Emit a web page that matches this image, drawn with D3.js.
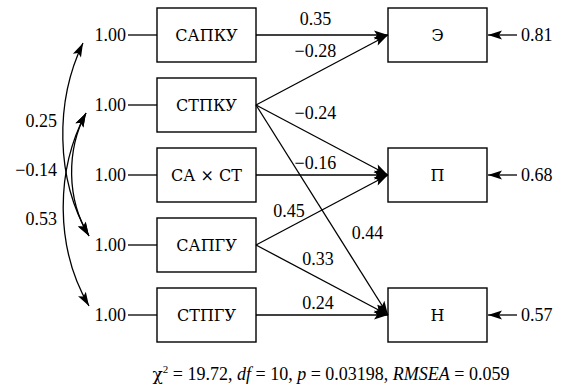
<!DOCTYPE html>
<html>
<head>
<meta charset="utf-8">
<script src="https://cdn.jsdelivr.net/npm/d3@7"></script>
</head>
<body style="margin:0">
<script>
// observed variables (left), outcomes (right)
const leftVars = ["САПКУ", "СТПКУ", "СА × СТ", "САПГУ", "СТПГУ"];
const leftVariances = [1.00, 1.00, 1.00, 1.00, 1.00];
const rightVars = ["Э", "П", "Н"];
const residuals = [0.81, 0.68, 0.57];

// paths
const pathFrom = ["САПКУ", "СТПКУ", "СТПКУ", "СТПКУ", "СА × СТ", "САПГУ", "САПГУ", "СТПГУ"];
const pathTo   = ["Э", "Э", "П", "Н", "П", "П", "Н", "Н"];
const pathCoef = [0.35, -0.28, -0.24, 0.44, -0.16, 0.45, 0.33, 0.24];

// covariances
const covFrom = ["САПКУ", "СТПКУ", "СТПКУ"];
const covTo   = ["САПГУ", "САПГУ", "СТПГУ"];
const covValues = [0.25, -0.14, 0.53];

const fitText = [["χ", "greek"], ["2", "sup"], [" = 19.72, ", "down"], ["df", "i"], [" = 10, ", ""], ["p", "i"], [" = 0.03198, ", ""], ["RMSEA", "i"], [" = 0.059", ""]];

// layout for labels
const pathLabelPos = [
  { t: 0.45, dx: 0, dy: -16 },
  { t: 0.45, dx: 0, dy: -23 },
  { t: 0.45, dx: 0, dy: -24 },
  { t: 0.61, dx: 31, dy: 0 },
  { t: 0.45, dx: 0, dy: -12 },
  { t: 0.25, dx: 0, dy: -17 },
  { t: 0.47, dx: 0, dy: -19 },
  { t: 0.47, dx: 0, dy: -12 }
];
const covLabelY = [121, 170, 219];

const W = 563, H = 390;
const boxW = 99, boxH = 54;
const leftX = 157, rightX = 388;
const numFont = "Liberation Serif", cyrFont = "DejaVu Serif";

const svg = d3.select("body").append("svg")
    .attr("width", W).attr("height", H);

// apply font to a text selection
function font(sel, fam, size) {
  return sel.attr("font-family", fam).attr("font-size", size)
    .style("font-family", fam).style("font-size", size + "px");
}

const y = d3.scalePoint().domain(leftVars).range([35, 315]);
const yR = d3.scalePoint().domain(rightVars).range([35, 315]);
const fmt = d3.format(".2f");

svg.append("defs").append("marker")
    .attr("id", "head")
    .attr("markerUnits", "userSpaceOnUse")
    .attr("viewBox", "-15 -6 16 12")
    .attr("refX", 0).attr("refY", 0)
    .attr("markerWidth", 16).attr("markerHeight", 12)
    .attr("orient", "auto-start-reverse")
    .append("path")
    .attr("d", "M0,0 L-14,-4.5 L-11,0 L-14,4.5 Z")
    .attr("fill", "#000");

// left boxes
const lg = svg.append("g");
lg.selectAll("rect").data(leftVars).join("rect")
    .attr("x", leftX).attr("y", d => y(d) - boxH / 2)
    .attr("width", boxW).attr("height", boxH)
    .attr("fill", "none").attr("stroke", "#000").attr("stroke-width", 1.4);
lg.selectAll("text.name").data(leftVars).join("text")
    .attr("class", "name")
    .attr("x", leftX + boxW / 2).attr("y", d => y(d)).attr("dy", "0.36em")
    .attr("text-anchor", "middle").text(d => d)
    .call(font, cyrFont, 16);

// variances
lg.selectAll("line.var").data(leftVars).join("line")
    .attr("class", "var")
    .attr("x1", 128).attr("x2", leftX)
    .attr("y1", d => y(d)).attr("y2", d => y(d))
    .attr("stroke", "#000").attr("stroke-width", 1.3);
lg.selectAll("text.var").data(leftVars).join("text")
    .attr("class", "var")
    .attr("x", 126).attr("y", d => y(d)).attr("dy", "0.35em")
    .attr("text-anchor", "end")
    .text((d, i) => fmt(leftVariances[i]))
    .call(font, numFont, 18);

// right boxes
const rg = svg.append("g");
rg.selectAll("rect").data(rightVars).join("rect")
    .attr("x", rightX).attr("y", d => yR(d) - boxH / 2)
    .attr("width", boxW).attr("height", boxH)
    .attr("fill", "none").attr("stroke", "#000").attr("stroke-width", 1.4);
rg.selectAll("text.name").data(rightVars).join("text")
    .attr("class", "name")
    .attr("x", rightX + boxW / 2).attr("y", d => yR(d)).attr("dy", "0.36em")
    .attr("text-anchor", "middle").text(d => d)
    .call(font, cyrFont, 16);

// residual arrows
rg.selectAll("line.res").data(rightVars).join("line")
    .attr("class", "res")
    .attr("x1", 517).attr("x2", rightX + boxW + 1)
    .attr("y1", d => yR(d)).attr("y2", d => yR(d))
    .attr("stroke", "#000").attr("stroke-width", 1.3)
    .attr("marker-end", "url(#head)");
rg.selectAll("text.res").data(rightVars).join("text")
    .attr("class", "res")
    .attr("x", 521).attr("y", d => yR(d)).attr("dy", "0.35em")
    .text((d, i) => fmt(residuals[i]))
    .call(font, numFont, 18);

// paths
const paths = pathCoef.map((c, i) => ({
  x1: leftX + boxW, y1: y(pathFrom[i]),
  x2: rightX, y2: yR(pathTo[i]),
  c, pos: pathLabelPos[i]
}));
const pg = svg.append("g");
pg.selectAll("line").data(paths).join("line")
    .attr("x1", d => d.x1).attr("y1", d => d.y1)
    .attr("x2", d => d.x2).attr("y2", d => d.y2)
    .attr("stroke", "#000").attr("stroke-width", 1.3)
    .attr("marker-end", "url(#head)");
pg.selectAll("text").data(paths).join("text")
    .attr("x", d => d.x1 + (d.x2 - d.x1) * d.pos.t + d.pos.dx)
    .attr("y", d => d.y1 + (d.y2 - d.y1) * d.pos.t + d.pos.dy)
    .attr("dy", "0.35em").attr("text-anchor", "middle")
    .text(d => fmt(d.c))
    .call(font, numFont, 18);

// covariances
const covX = 86;
const covs = covValues.map((v, i) => {
  const ya = y(covFrom[i]) + 8, yb = y(covTo[i]) - 9;
  const span = yb - ya;
  const cx = covX - 0.16 * span;
  const p = d3.path();
  p.moveTo(covX - 3 * (i === 0), ya);
  p.bezierCurveTo(cx, ya + span * 0.3, cx, yb - span * 0.3, covX + 3, yb);
  return { d: p.toString(), v, ly: covLabelY[i] };
});
const cg = svg.append("g");
cg.selectAll("path").data(covs).join("path")
    .attr("d", d => d.d)
    .attr("fill", "none").attr("stroke", "#000").attr("stroke-width", 1.3)
    .attr("marker-start", "url(#head)").attr("marker-end", "url(#head)");
cg.selectAll("text").data(covs).join("text")
    .attr("x", 57).attr("y", d => d.ly).attr("dy", "0.35em")
    .attr("text-anchor", "end")
    .text(d => fmt(d.v))
    .call(font, numFont, 18);

// fit statistics
const ft = svg.append("text")
    .attr("x", 331).attr("y", 380)
    .attr("text-anchor", "middle")
    .call(font, numFont, 18);
fitText.forEach(([s, k]) => {
  const ts = ft.append("tspan").text(s);
  if (k === "greek") ts.call(font, cyrFont, 17);
  if (k === "i") ts.attr("font-style", "italic").style("font-style", "italic");
  if (k === "sup") ts.call(font, numFont, 11).attr("dy", -7);
  if (k === "down") ts.attr("dy", 7);
});
</script>
</body>
</html>
